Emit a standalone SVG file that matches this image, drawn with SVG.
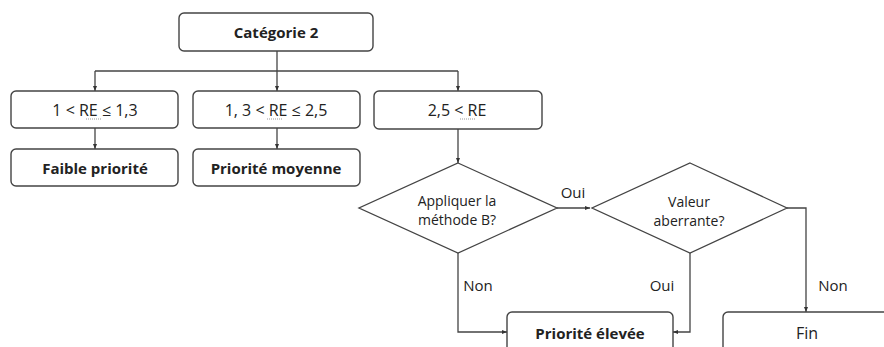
<svg xmlns="http://www.w3.org/2000/svg" width="884" height="347" viewBox="0 0 884 347">
<defs>
<marker id="ah" viewBox="0 0 10 10" refX="10" refY="5" markerWidth="5" markerHeight="5" orient="auto" markerUnits="userSpaceOnUse">
<path d="M0,1 L10,5 L0,9 z" fill="#333"/>
</marker>
<style>
.box{fill:#fff;stroke:#444;stroke-width:1.4}
.dia{fill:#fff;stroke:#444;stroke-width:1.3}
.c{fill:none;stroke:#444;stroke-width:1.3}
.t{font-family:"Open Sans","Liberation Sans",sans-serif;font-size:16px;fill:#222;text-anchor:middle;dominant-baseline:central}
.b{font-weight:bold;font-size:15px}
.s{font-size:14px}
.l{font-family:"Open Sans","Liberation Sans",sans-serif;font-size:15px;fill:#222;text-anchor:middle;dominant-baseline:central}
.sq{stroke:#999;stroke-width:1;stroke-dasharray:1 1;fill:none}
</style>
</defs>
<rect width="884" height="347" fill="#fff"/>
<g id="connectors">
<path class="c" d="M277,51 V71"/>
<path class="c" d="M95,71 H458"/>
<path class="c" d="M95,71 V91" marker-end="url(#ah)"/>
<path class="c" d="M277,71 V91" marker-end="url(#ah)"/>
<path class="c" d="M458,71 V91" marker-end="url(#ah)"/>
<path class="c" d="M95,128 V149" marker-end="url(#ah)"/>
<path class="c" d="M277,128 V149" marker-end="url(#ah)"/>
<path class="c" d="M458,129 V163" marker-end="url(#ah)"/>
<path class="c" d="M557,208 H590" marker-end="url(#ah)"/>
<path class="c" d="M458,253 V332 H507" marker-end="url(#ah)"/>
<path class="c" d="M690,253 V332 H673" marker-end="url(#ah)"/>
<path class="c" d="M787,208 H806 V312" marker-end="url(#ah)"/>
<text class="l" x="573" y="192">Oui</text>
<text class="l" x="478" y="285">Non</text>
<text class="l" x="662" y="285">Oui</text>
<text class="l" x="833" y="285">Non</text>
</g>
<g id="categorie2">
<rect class="box" x="179" y="13" width="194" height="38" rx="5"/>
<text class="t b" x="276" y="32">Catégorie 2</text>
</g>
<g id="re1">
<rect class="box" x="11" y="91" width="167" height="37" rx="5"/>
<text class="t" x="95" y="110">1 &lt; RE ≤ 1,3</text>
<path class="sq" d="M86,119 H101"/>
</g>
<g id="re2">
<rect class="box" x="193" y="91" width="167" height="37" rx="5"/>
<text class="t" x="276" y="110">1, 3 &lt; RE ≤ 2,5</text>
<path class="sq" d="M267,119 H282"/>
</g>
<g id="re3">
<rect class="box" x="374" y="91" width="168" height="38" rx="5"/>
<text class="t" x="457" y="110">2,5 &lt; RE</text>
<path class="sq" d="M460,119 H476"/>
</g>
<g id="faible">
<rect class="box" x="11" y="149" width="167" height="37" rx="5"/>
<text class="t b" x="95" y="168">Faible priorité</text>
</g>
<g id="moyenne">
<rect class="box" x="193" y="149" width="167" height="37" rx="5"/>
<text class="t b" x="276" y="168">Priorité moyenne</text>
</g>
<g id="methodeB">
<path class="dia" d="M458,163 L557,208 L458,253 L359,208 Z"/>
<text class="t s" x="457" y="200">Appliquer la</text>
<text class="t s" x="457" y="219">méthode B?</text>
</g>
<g id="aberrante">
<path class="dia" d="M690,163 L787,208 L690,253 L592,208 Z"/>
<text class="t s" x="689" y="201">Valeur</text>
<text class="t s" x="689" y="220">aberrante?</text>
</g>
<g id="elevee">
<rect class="box" x="507" y="312" width="166" height="45" rx="5"/>
<text class="t b" x="590" y="333">Priorité élevée</text>
</g>
<g id="fin">
<rect class="box" x="723" y="312" width="175" height="45" rx="5"/>
<text class="t" x="807" y="333">Fin</text>
</g>
</svg>
